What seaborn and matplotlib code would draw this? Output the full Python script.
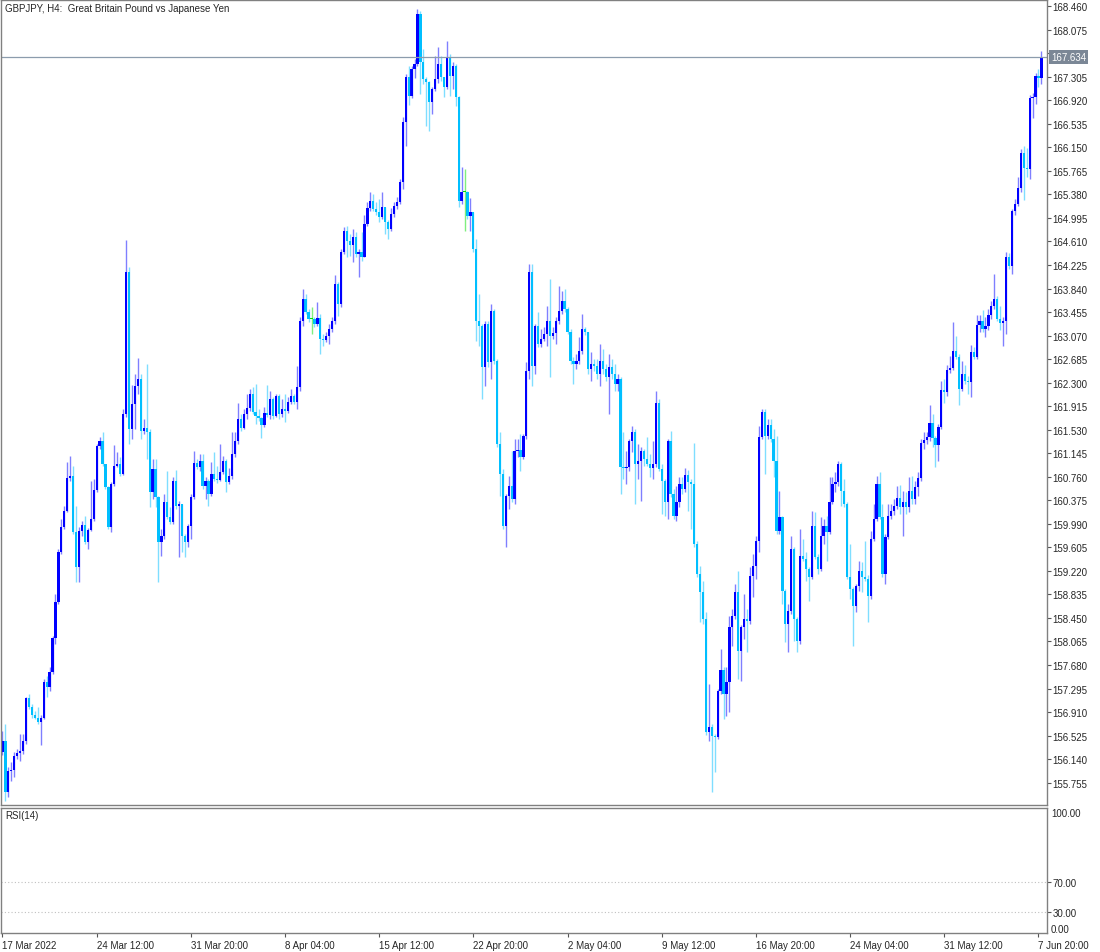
import numpy as np
import pandas as pd
import matplotlib
matplotlib.use("Agg")
import matplotlib.pyplot as plt
import matplotlib.transforms as mtransforms
import seaborn as sns

# GBPJPY H4 candles (open of each bar = previous close)
first_open = 156.26
closes = [
    156.44, 155.60, 155.95, 155.96, 156.19, 156.24, 156.27, 156.44, 157.14, 156.99,
    156.86, 156.82, 156.75, 156.82, 157.40, 157.32, 157.56, 158.12, 158.71, 159.53,
    159.94, 160.20, 160.74, 160.77, 159.85, 159.28, 159.87, 159.97, 159.69, 159.89,
    160.07, 160.54, 161.26, 161.34, 160.97, 160.59, 159.94, 160.64, 160.93, 160.97,
    160.80, 161.78, 164.11, 161.54, 161.95, 162.24, 162.36, 161.51, 161.56, 161.49,
    160.51, 160.89, 160.43, 159.69, 159.79, 160.34, 160.10, 160.02, 160.69, 160.28,
    160.31, 159.79, 159.69, 159.95, 160.43, 160.98, 160.92, 161.02, 160.61, 160.69,
    160.48, 160.80, 160.72, 160.71, 160.84, 161.02, 160.67, 160.77, 161.13, 161.34,
    161.70, 161.56, 161.78, 161.88, 162.11, 161.82, 161.75, 161.72, 161.60, 161.80,
    161.77, 162.03, 161.75, 162.08, 161.78, 161.87, 161.83, 161.98, 162.08, 161.98,
    162.23, 163.31, 163.67, 163.45, 163.34, 163.34, 163.26, 163.36, 163.01, 163.00,
    163.06, 163.17, 163.31, 163.91, 163.58, 164.44, 164.78, 164.62, 164.55, 164.68,
    164.40, 164.44, 164.35, 164.89, 165.16, 165.27, 165.14, 165.09, 165.01, 165.17,
    164.93, 164.81, 165.06, 165.19, 165.25, 165.58, 166.56, 167.30, 166.99, 167.43,
    167.51, 168.33, 167.54, 167.26, 167.22, 166.89, 167.10, 167.26, 167.51, 167.30,
    167.13, 167.63, 167.31, 167.48, 166.97, 165.27, 165.42, 165.42, 165.02, 165.09,
    164.48, 163.31, 163.22, 162.55, 163.26, 162.64, 163.47, 162.65, 161.29, 160.80,
    159.95, 160.44, 160.61, 160.39, 161.18, 161.20, 161.08, 161.43, 162.49, 164.11,
    162.57, 163.22, 162.93, 163.01, 163.09, 163.31, 163.06, 163.11, 163.31, 163.47,
    163.63, 163.50, 163.13, 162.65, 162.60, 162.65, 162.82, 163.17, 163.13, 162.52,
    162.60, 162.57, 162.44, 162.65, 162.52, 162.39, 162.55, 162.44, 162.28, 162.36,
    160.92, 160.90, 160.92, 161.34, 161.49, 160.97, 161.02, 161.18, 161.05, 160.97,
    160.90, 160.97, 161.96, 160.89, 160.69, 160.34, 161.34, 160.48, 160.12, 160.34,
    160.64, 160.56, 160.79, 160.67, 160.64, 159.66, 159.17, 158.87, 158.43, 156.58,
    156.66, 156.52, 156.50, 157.25, 157.60, 157.20, 157.40, 158.30, 158.48, 158.87,
    157.91, 158.30, 158.43, 158.40, 159.13, 159.30, 159.71, 161.41, 161.82, 161.43,
    161.60, 161.37, 161.02, 159.87, 160.10, 158.89, 158.35, 158.56, 159.58, 158.43,
    158.07, 159.46, 159.41, 159.25, 159.12, 159.95, 159.45, 159.25, 159.79, 159.95,
    159.85, 160.34, 160.64, 160.67, 160.97, 160.52, 160.31, 159.12, 158.92, 158.64,
    158.97, 159.22, 159.12, 159.09, 158.81, 159.74, 160.07, 160.64, 160.10, 159.17,
    159.77, 160.12, 160.20, 160.28, 160.41, 160.26, 160.34, 160.26, 160.52, 160.39,
    160.59, 160.74, 161.31, 161.36, 161.41, 161.64, 161.39, 161.28, 161.57, 162.18,
    162.14, 162.50, 162.54, 162.82, 162.72, 162.19, 162.44, 162.33, 162.31, 162.80,
    162.72, 163.24, 163.31, 163.17, 163.22, 163.40, 163.55, 163.67, 163.34, 163.27,
    163.31, 164.35, 164.21, 165.11, 165.22, 165.48, 166.05, 165.81, 165.79, 166.95,
    166.97, 167.31, 167.28, 167.634,
]
highs = [
    156.60, 156.71, 156.01, 156.09, 156.26, 156.30, 156.55, 156.55, 157.16, 157.20,
    157.04, 156.93, 156.99, 156.86, 157.45, 157.50, 157.65, 158.15, 158.84, 159.58,
    160.07, 160.28, 161.00, 161.10, 160.93, 160.28, 159.94, 160.04, 160.12, 159.92,
    160.69, 160.72, 161.29, 161.41, 161.49, 160.97, 160.61, 160.67, 161.28, 161.16,
    161.08, 161.87, 164.63, 164.19, 162.26, 162.44, 162.70, 162.44, 161.70, 162.60,
    161.54, 161.05, 161.05, 160.44, 159.90, 160.48, 160.85, 160.26, 160.75, 160.87,
    160.36, 160.31, 159.82, 159.99, 160.48, 161.18, 161.05, 161.13, 161.13, 160.75,
    160.72, 161.00, 161.16, 160.93, 161.29, 161.10, 161.05, 160.90, 161.49, 161.49,
    161.96, 161.78, 161.87, 162.11, 162.19, 162.23, 162.28, 161.87, 161.74, 161.90,
    162.26, 162.16, 162.06, 162.11, 162.11, 162.03, 162.11, 162.06, 162.19, 162.11,
    162.57, 163.37, 163.83, 163.75, 163.50, 163.54, 163.37, 163.62, 163.42, 163.09,
    163.13, 163.26, 163.37, 164.06, 163.94, 164.48, 164.84, 164.86, 164.73, 164.81,
    164.76, 164.48, 164.76, 165.04, 165.25, 165.42, 165.38, 165.25, 165.30, 165.42,
    165.16, 164.96, 165.16, 165.25, 165.34, 165.63, 166.64, 167.35, 167.48, 167.48,
    167.59, 168.41, 168.38, 167.76, 167.30, 167.23, 167.13, 167.64, 167.79, 167.64,
    167.26, 167.89, 167.67, 167.54, 167.51, 166.99, 165.83, 165.79, 165.43, 165.32,
    165.09, 164.65, 163.75, 163.26, 163.31, 163.31, 163.58, 163.50, 162.68, 161.49,
    160.89, 160.48, 160.77, 161.18, 161.37, 161.37, 161.46, 161.46, 162.64, 164.24,
    164.24, 163.26, 163.45, 163.17, 163.21, 163.55, 163.99, 163.21, 163.37, 163.88,
    163.80, 163.83, 163.54, 163.17, 162.72, 162.77, 163.04, 163.42, 163.21, 163.09,
    162.80, 162.68, 162.68, 162.93, 162.85, 162.60, 162.77, 162.68, 162.60, 162.44,
    162.39, 161.49, 161.18, 161.37, 161.59, 161.54, 161.29, 161.24, 161.21, 161.41,
    161.13, 161.34, 162.16, 162.03, 160.97, 160.72, 161.37, 161.51, 160.56, 160.61,
    160.75, 160.75, 160.90, 160.87, 160.72, 161.31, 159.71, 159.30, 159.05, 158.55,
    157.37, 156.71, 156.55, 157.29, 157.94, 157.65, 157.65, 158.48, 158.59, 159.00,
    159.22, 158.33, 158.84, 158.59, 159.28, 159.50, 159.79, 161.59, 161.87, 161.87,
    161.70, 161.70, 161.54, 161.43, 160.52, 160.12, 158.92, 158.68, 159.79, 159.61,
    158.46, 159.90, 159.74, 159.53, 159.28, 160.20, 160.18, 159.50, 160.10, 160.07,
    160.12, 160.75, 160.75, 160.84, 161.02, 161.00, 160.72, 160.34, 159.66, 158.96,
    159.00, 159.38, 159.36, 159.71, 159.15, 159.87, 160.31, 160.77, 160.84, 160.31,
    159.82, 160.31, 160.31, 160.39, 160.61, 160.62, 160.52, 160.51, 160.75, 160.77,
    160.69, 160.84, 161.37, 161.49, 161.49, 161.93, 161.78, 161.43, 161.62, 162.33,
    162.36, 162.59, 162.73, 163.29, 163.06, 162.77, 162.65, 162.59, 162.41, 162.91,
    162.88, 163.40, 163.40, 163.49, 163.37, 163.50, 163.63, 164.08, 163.72, 163.55,
    163.37, 164.44, 164.42, 165.14, 165.30, 165.66, 166.12, 166.17, 166.14, 167.00,
    167.04, 167.36, 167.43, 167.72,
]
lows = [
    156.21, 155.45, 155.52, 155.78, 155.85, 156.14, 156.11, 156.22, 156.39, 156.96,
    156.82, 156.79, 156.71, 156.37, 156.79, 157.16, 157.25, 157.53, 158.02, 158.68,
    159.50, 159.90, 160.18, 160.69, 159.82, 159.04, 159.04, 159.79, 159.66, 159.58,
    159.87, 160.04, 160.51, 161.22, 160.93, 160.56, 159.90, 159.85, 160.61, 160.92,
    160.77, 160.79, 161.74, 161.29, 161.37, 161.54, 162.11, 161.37, 161.46, 161.05,
    160.26, 160.39, 160.26, 159.04, 159.46, 159.74, 160.07, 159.99, 159.99, 160.23,
    159.45, 159.53, 159.45, 159.61, 159.74, 160.39, 160.89, 160.85, 160.56, 160.39,
    160.28, 160.44, 160.69, 160.66, 160.69, 160.80, 160.51, 160.64, 160.72, 161.08,
    161.29, 161.51, 161.54, 161.70, 161.83, 161.78, 161.62, 161.67, 161.39, 161.57,
    161.74, 161.70, 161.70, 161.74, 161.70, 161.74, 161.65, 161.80, 161.95, 161.95,
    161.87, 162.16, 163.22, 163.42, 163.29, 163.09, 163.21, 163.22, 162.77, 162.90,
    162.96, 162.93, 163.13, 163.26, 163.39, 163.54, 164.40, 164.35, 164.37, 164.27,
    164.35, 164.03, 164.29, 164.45, 164.86, 165.11, 165.11, 165.04, 164.93, 164.97,
    164.73, 164.65, 164.78, 165.01, 165.14, 165.22, 165.47, 166.17, 166.84, 166.95,
    167.28, 167.48, 167.02, 167.18, 166.50, 166.41, 166.69, 167.07, 167.20, 167.23,
    166.97, 167.10, 166.99, 167.10, 166.82, 165.17, 165.22, 164.78, 164.97, 164.78,
    164.44, 162.98, 162.90, 162.03, 162.24, 162.55, 162.36, 162.60, 161.24, 160.44,
    159.90, 159.61, 160.23, 160.34, 160.31, 161.08, 160.85, 161.05, 161.37, 162.36,
    162.24, 162.44, 162.88, 162.88, 162.98, 162.90, 162.39, 163.01, 162.93, 163.26,
    163.42, 163.45, 163.09, 162.60, 162.28, 162.52, 162.60, 162.77, 163.08, 162.44,
    162.33, 162.49, 162.36, 162.24, 162.44, 162.33, 161.78, 162.36, 162.16, 162.16,
    160.48, 160.72, 160.64, 160.85, 161.16, 160.31, 160.72, 160.36, 160.93, 160.93,
    160.75, 160.72, 160.92, 160.85, 160.15, 160.12, 160.07, 160.43, 160.07, 160.04,
    160.26, 160.48, 160.51, 160.20, 159.90, 159.61, 159.12, 158.38, 158.35, 156.53,
    156.44, 155.60, 155.93, 156.47, 157.20, 156.79, 156.84, 156.91, 157.99, 158.43,
    157.45, 157.42, 158.10, 157.89, 158.35, 158.79, 159.09, 159.53, 161.37, 160.80,
    161.37, 161.33, 160.75, 159.82, 159.82, 158.68, 158.06, 157.89, 158.51, 158.07,
    157.89, 158.02, 159.38, 159.05, 158.73, 159.09, 159.41, 159.17, 159.22, 159.66,
    159.38, 159.82, 160.31, 160.51, 160.61, 160.28, 160.26, 159.09, 158.76, 157.99,
    158.55, 158.89, 158.87, 159.05, 158.38, 158.76, 159.71, 160.04, 160.07, 159.12,
    159.00, 159.74, 160.07, 160.13, 160.23, 160.15, 159.79, 160.15, 160.18, 160.31,
    160.31, 160.44, 160.69, 161.21, 161.29, 161.34, 161.24, 160.92, 161.02, 161.54,
    161.96, 162.08, 162.46, 162.50, 162.68, 161.93, 162.16, 162.28, 162.11, 162.06,
    162.68, 162.68, 163.13, 163.13, 163.04, 163.16, 163.34, 163.50, 163.31, 163.16,
    162.90, 163.09, 164.16, 164.08, 165.04, 165.19, 165.42, 165.29, 165.66, 165.63,
    166.63, 166.86, 167.13, 167.18,
]

date_labels = ["17 Mar 2022", "24 Mar 12:00", "31 Mar 20:00", "8 Apr 04:00",
               "15 Apr 12:00", "22 Apr 20:00", "2 May 04:00", "9 May 12:00",
               "16 May 20:00", "24 May 04:00", "31 May 12:00", "7 Jun 20:00"]
date_stamps = ["2022-03-17 04:00", "2022-03-24 12:00", "2022-03-31 20:00",
               "2022-04-08 04:00", "2022-04-15 12:00", "2022-04-22 20:00",
               "2022-05-02 04:00", "2022-05-09 12:00", "2022-05-16 20:00",
               "2022-05-24 04:00", "2022-05-31 12:00", "2022-06-07 20:00"]
price_ticks = np.round(155.755 + 0.385 * np.arange(34), 3)
rsi_levels = [70, 30]

sns.set_theme(style="white")
plt.rcParams["font.family"] = ["Liberation Sans", "DejaVu Sans"]

df = pd.DataFrame({"open": [first_open] + closes[:-1], "high": highs,
                   "low": lows, "close": closes})
df["high"] = df[["open", "high", "close"]].max(axis=1)
df["low"] = df[["open", "low", "close"]].min(axis=1)
times = pd.date_range("2022-03-17 04:00", "2022-06-10", freq="4h")
df["time"] = times[times.dayofweek < 5][:len(df)]

bull, bear, doji = "#0000ff", "#00bfff", "#00e000"
df["color"] = np.where(df.close > df.open, bull, np.where(df.close < df.open, bear, doji))

W, H = 1100, 953
fig = plt.figure(figsize=(W / 100, H / 100), dpi=100)
ax = fig.add_axes([1 / W, 1 - 806 / H, 1046 / W, 805 / H])
ax_rsi = fig.add_axes([1 / W, 1 - 934 / H, 1046 / W, 125 / H], sharex=ax)

# candles
x = np.arange(len(df))
ax.vlines(x, df.low, df.high, colors=df.color, lw=1, alpha=0.5)
body = (df.close - df.open).abs().clip(lower=0.012)
ax.bar(x, body, bottom=df[["open", "close"]].min(axis=1), width=0.76,
       color=df.color, linewidth=0)

ax.set_xlim(-0.5, len(df) + 0.9)
ax.set_ylim(155.39, 168.56)

last = closes[-1]
ax.axhline(last, color="#8c9cad", lw=0.9)
trans = mtransforms.blended_transform_factory(ax.transAxes, ax.transData)
ax.text(1 + 4 / 1046, last, f"{last:.3f}", transform=trans, color="white",
        fontsize=7, va="center", ha="left",
        bbox=dict(boxstyle="square,pad=0.2", fc="#7b8796", ec="none"), zorder=5)

ax.yaxis.tick_right()
ax.set_yticks(price_ticks)
ax.set_yticklabels([f"{v:.3f}" for v in price_ticks])
ax.tick_params(axis="y", right=True, left=False, length=3, width=0.8,
               color="#555555", labelsize=7, pad=1)
ax.tick_params(axis="x", bottom=False, labelbottom=False)
ax.text(4 / 1046, 1 - 8 / 805, "GBPJPY, H4:  Great Britain Pound vs Japanese Yen",
        transform=ax.transAxes, fontsize=7, va="center", ha="left")

# RSI window (empty indicator, fixed levels)
ax_rsi.set_ylim(2, 168.7)
for lvl in rsi_levels:
    ax_rsi.axhline(lvl, color="#c0c0c0", lw=0.8, ls=(0, (1, 2)))
ax_rsi.yaxis.tick_right()
ax_rsi.set_yticks(rsi_levels)
ax_rsi.set_yticklabels([f"{v:.2f}" for v in rsi_levels])
ax_rsi.tick_params(axis="y", right=True, left=False, length=3, width=0.8,
                   color="#555555", labelsize=7, pad=1)
for frac, txt in [(1 - 5 / 125, "100.00"), (4 / 125, "0.00")]:
    ax_rsi.text(1 + 4 / 1046, frac, txt, transform=ax_rsi.transAxes,
                fontsize=7, va="center", ha="left")
ax_rsi.text(4 / 1046, 1 - 7 / 125, "RSI(14)", transform=ax_rsi.transAxes,
            fontsize=7, va="center", ha="left")

tick_idx = [int(np.flatnonzero(df.time == pd.Timestamp(s))[0]) for s in date_stamps]
ax_rsi.set_xticks(tick_idx)
ax_rsi.set_xticklabels(date_labels, ha="left")
ax_rsi.tick_params(axis="x", bottom=True, length=3, width=0.8, color="#555555",
                   labelsize=7, pad=2)

for a in (ax, ax_rsi):
    a.grid(False)
    for s in a.spines.values():
        s.set_color("#808080")
        s.set_linewidth(1)

fig.savefig("out.png", dpi=100, facecolor="white")
